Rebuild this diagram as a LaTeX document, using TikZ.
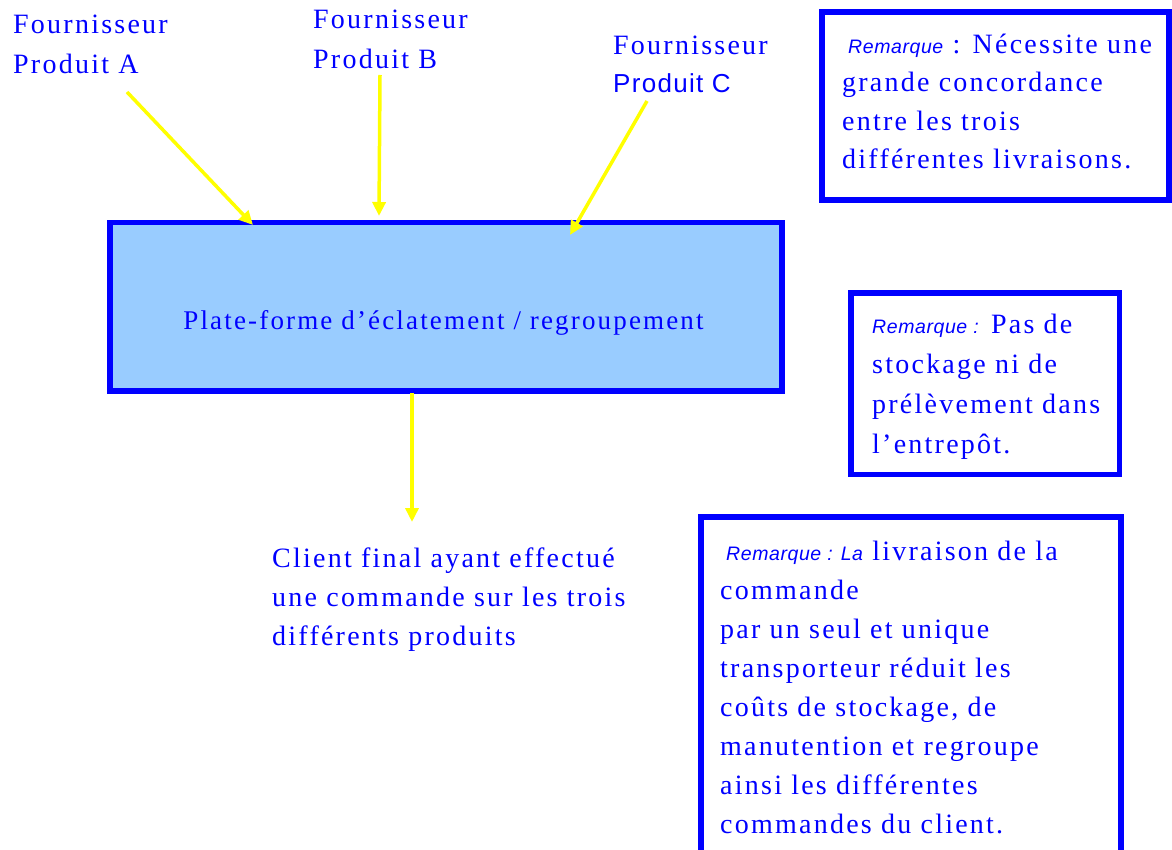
\documentclass[tikz,border=0pt]{standalone}
\usepackage{fontspec}
\setmainfont{Liberation Serif}[LetterSpace=8]
\newfontfamily\remfont{Liberation Sans}[LetterSpace=3]
\newfontfamily\labfont{Liberation Sans}[LetterSpace=5]
\usetikzlibrary{arrows.meta}
\definecolor{lineblue}{RGB}{0,0,255}
\definecolor{platfill}{RGB}{153,204,255}
\definecolor{arrowyellow}{RGB}{255,255,0}
% italic sans lead-in of each note
\newcommand\remtag[1]{{\remfont\itshape\fontsize{19.5}{19.5}\selectfont #1}}
\tikzset{
  framebox/.style={draw=lineblue, line width=5.5pt, rectangle, inner sep=0pt},
  % nodes are placed by the baseline of their last line
  txt/.style={text=lineblue, align=left, anchor=base west, inner sep=0pt,
              font=\fontsize{28}{39}\selectfont},
  feed/.style={draw=arrowyellow, line width=3.5pt,
               -{Triangle[length=14pt,width=13pt]}}
}
\begin{document}
\begin{tikzpicture}[x=1pt,y=-1pt]
\useasboundingbox (0,0) rectangle (1172,850);
\clip (0,0) rectangle (1172,850);

% central platform
\node[framebox, fill=platfill, minimum width=672pt, minimum height=168.5pt]
  (plat) at (446,306.75) {};
\node[txt, anchor=base, font=\fontsize{27}{39}\selectfont] (platText) at (443.5,329)
  {Plate-forme d’éclatement / regroupement};

% suppliers
\node[txt, font=\fontsize{28}{40}\selectfont] (fa) at (13,74)
  {Fournisseur\\Produit A};
\node[txt, font=\fontsize{28}{40}\selectfont] (fb) at (313,69)
  {Fournisseur\\Produit B};
\node[txt, font=\fontsize{28}{38}\selectfont] (fc) at (613,93)
  {Fournisseur\\{\labfont\fontsize{26}{38}\selectfont Produit C}};

% final customer
\node[txt] (client) at (272,645)
  {Client final ayant effectué\\une commande sur les trois\\différents produits};

% notes
\node[framebox, minimum width=347pt, minimum height=188pt] (note1) at (995.5,106) {};
\node[txt, font=\fontsize{28}{38.5}\selectfont] (note1Text) at (842,169)
  {\remtag{\ Remarque} : Nécessite une\\grande concordance\\entre les trois\\différentes livraisons.};

\node[framebox, minimum width=268.5pt, minimum height=181.5pt] (note2) at (985.25,383.75) {};
\node[txt, font=\fontsize{28}{40}\selectfont] (note2Text) at (872,453)
  {\remtag{Remarque :} Pas de\\stockage ni de\\prélèvement dans\\l’entrepôt.};

\node[framebox, minimum width=420pt, minimum height=363pt] (note3) at (911,698.5) {};
\node[txt, font=\fontsize{28}{39}\selectfont] (note3Text) at (720,833)
  {\remtag{\ Remarque : La} livraison de la\\commande\\par un seul et unique\\transporteur réduit les\\coûts de stockage, de\\manutention et regroupe\\ainsi les différentes\\commandes du client.};

% arrow ends
\coordinate (aTail) at (127,92);
\coordinate (aHead) at (253,225);
\coordinate (bTail) at (380,75);
\coordinate (bHead) at (379,216);
\coordinate (cTail) at (647,101);
\coordinate (cHead) at (570,235);
\coordinate (dTail) at (412,393);
\coordinate (dHead) at (412,522);

\draw[feed] (aTail) -- (aHead);
\draw[feed] (bTail) -- (bHead);
\draw[feed] (cTail) -- (cHead);
\draw[feed] (dTail) -- (dHead);
\end{tikzpicture}
\end{document}
